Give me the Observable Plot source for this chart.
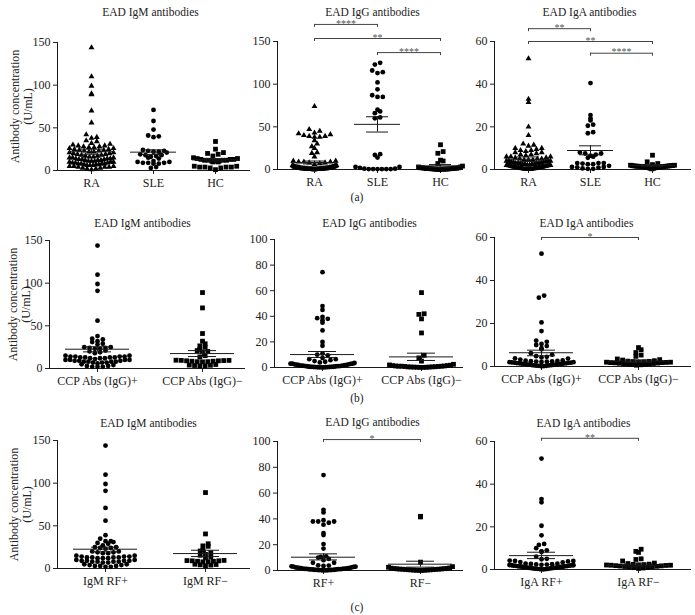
<!DOCTYPE html>
<html>
<head>
<meta charset="utf-8">
<script src="https://cdn.jsdelivr.net/npm/d3@7"></script>
<script src="https://cdn.jsdelivr.net/npm/@observablehq/plot@0.6"></script>
<style>
  body { margin: 0; background: white; }
  #chart { position: relative; width: 695px; height: 615px; background: white; overflow: hidden; }
  .pl { position: absolute; }
  .lab { position: absolute; font-family: 'Liberation Serif', serif; font-size: 11.5px; color: #222; transform: translate(-50%, -50%); }
</style>
</head>
<body>
<div id="chart"></div>
<script>
// ---------- Category / tick labels ----------
const titles = ["EAD IgM antibodies", "EAD IgG antibodies", "EAD IgA antibodies"];
const catsA = ["RA", "SLE", "HC"];
const catsB = ["CCP Abs (IgG)+", "CCP Abs (IgG)\u2212"];
const catsC_IgM = ["IgM RF+", "IgM RF\u2212"];
const catsC_IgG = ["RF+", "RF\u2212"];
const catsC_IgA = ["IgA RF+", "IgA RF\u2212"];
const yTicksM = [0, 50, 100, 150];
const yTicksG = [0, 20, 40, 60, 80, 100];
const yTicksA = [0, 20, 40, 60];
const panelLetters = ["(a)", "(b)", "(c)"];

// ---------- (a) RA / SLE / HC ----------
const a_IgM_RA = [144,110,99,90,89,70,56,42,39,38,35,34,32,31,30,29,29,28,28,27,27,26,26,25,25,24,24,23,23,22,22,21,21,20,20,19,19,18,18,17,17,16,16,15,15,15,14,14,14,13,13,13,12,12,12,11,11,11,10,10,10,9,9,9,8,8,8,8,7,7,7,6,6,6,5,5,5,4,4,4,3,3,2,2,1];
const a_IgM_SLE = [71,58,48,41,40,39,24,23,23,22,22,21,19,18,18,17,16,15,14,11,10,10,9,9,9,8,8,4,3];
const a_IgM_HC = [34,25,21,20,19,17,15,14,14,13,13,13,12,12,12,12,11,11,11,10,10,5,5,4,4,4,4,3,3,1];
const a_IgG_RA = [74,47,45,43,42,41,40,39,39,38,38,34,30,27,25,20,19,15,10,10,9,9,9,8,8,7,6,5,5,4,4,4,3.5,3.5,3,3,3,3,2.5,2.5,2.5,2,2,2,2,2,2,1.5,1.5,1.5,1.5,1.5,1.2,1.2,1.2,1.2,1,1,1,1,1,1,0.8,0.8,0.8,0.8,0.6,0.6,0.6,0.6,0.5,0.5,0.5,0.4,0.4,0.4,0.3,0.3,0.3,0.2,0.2,0.2,0.1,0.1,0.1];
const a_IgG_SLE = [125,123,116,114,113,102,94,87,85,85,70,68,66,61,60,18,17,14,3,2,1,0.5,0.5,0.5,0.5,0.5,0.5,1,3];
const a_IgG_HC = [29,21,19,11,10,7,4,3,3,2,2,2,1.5,1.5,1.5,1,1,1,1,1,0.8,0.8,0.5,0.5,0.5,0.3,0.3,0.2,0.2,0.1];
const a_IgA_RA = [52,33,31.5,20,16,12,11.5,11,10,10,9.5,9,9,8.5,8,8,7.5,7,7,6.5,6,6,6,5.5,5.5,5,5,5,4.5,4.5,4.5,4,4,4,4,3.8,3.5,3.5,3.5,3.2,3,3,3,3,2.8,2.5,2.5,2.5,2.5,2.2,2.2,2,2,2,2,1.8,1.8,1.6,1.6,1.5,1.5,1.4,1.3,1.2,1.2,1.1,1,1,1,0.9,0.8,0.8,0.7,0.6,0.6,0.5,0.5,0.4,0.3,0.2,0.2,0.1,0.1,0.1,0.1];
const a_IgA_SLE = [40.5,25.5,24,23,21,20.5,17.5,17,8,7.5,7.5,7,6.5,6,5.5,3,3,3,2.8,2.5,2.5,1.7,1.2,1.2,1,0.9,0.5,0.3,0.3];
const a_IgA_HC = [6.7,3.6,2.8,2.3,2,2,1.9,1.8,1.8,1.7,1.7,1.6,1.6,1.5,1.5,1.5,1.4,1.4,1.3,1.3,1.2,1.2,1.1,1,1,0.9,0.8,0.6,0.5,0.3];

// ---------- (b) CCP Abs (IgG)+ / − ----------
const b_IgM_pos = [144,110,99,91,56,38,35,34,32,31,29,28,25,25,24,24,23,23,21,20,19,18,15,15,14,14,14,14,13,13,13,13,12,12,12,11,10,10,10,10,9,9,9,8,8,8,8,7,7,7,6,5,4,3,3,2,2,2];
const b_IgM_neg = [89,71,41,32,29,26.5,25,22.5,21,20,19.5,15,13.5,9.7,9.5,9.3,9,8.5,8,7.8,8,8.5,9,9.5,4.7,4,3.5,3,3.2,3.8];
const b_IgG_pos = [74.5,48,45,39.5,38.5,38,37,35,29,20,17,11,10,9.5,7.5,6.5,6.5,5.7,5,4.5,4,3.5,3,3,3,2.8,2.5,2.5,2.2,2,2,1.8,1.5,1.5,1.5,1.2,1.2,1,1,1,0.8,0.8,0.6,0.6,0.5,0.5,0.4,0.4,0.3,0.3,0.2,0.2,0.1,0.1,0.1];
const b_IgG_neg = [58.5,42,41.5,38,27,9.5,7.5,5,2.5,2,1.8,1.5,1.5,1.2,1.2,1,1,1,0.8,0.8,0.6,0.5,0.5,0.4,0.3,0.3,0.2,0.2,0.1,0.1];
const b_IgA_pos = [52.5,33,32,20.5,16.5,12,11.5,10.5,10,9.5,8.5,8,6.2,5.5,4.8,4.5,4.2,3.8,3.7,3.2,2.8,2.7,2.6,2.5,2.4,2.3,2.2,2.1,2,2,1.9,1.8,1.8,1.7,1.6,1.5,1.5,1.4,1.3,1.2,1.2,1.1,1,1,0.9,0.8,0.7,0.6,0.5,0.5,0.4,0.3,0.3,0.2,0.1];
const b_IgA_neg = [8.8,7.8,6.5,5.3,4.7,3.5,3.2,3,2.7,2.5,2.4,2.3,2.2,2.1,2,2,1.9,1.8,1.8,1.7,1.6,1.5,1.4,1.3,1.2,1.1,1,0.9,0.8,0.6];

// ---------- (c) RF+ / RF− ----------
const c_IgM_pos = [144,110,99,91,71,56,39,35,32,32,31,30,29,27,25,25,24,24,23,20,20,19,19,18,18,15,15,14,14,14,13,13,13,13,12,12,12,10,10,9,9,9,9,8,8,8,8,7,7,5,5,4,4,3,3,3,2,2];
const c_IgM_neg = [89,40.5,29,26.5,26,21.5,20.5,18.5,16.5,15.5,13.5,12.5,9.5,9,8.5,8.5,8,7.8,9,9.3,4.7,4.3,3.1,4,5];
const c_IgG_pos = [74,47,45,39,38,38,38,37,35.5,29,27.5,20.5,17,11,10.5,10,9,8,6,6,4,3.8,3.5,3.2,3,3,2.8,2.5,2.5,2.2,2,2,1.8,1.8,1.5,1.5,1.5,1.2,1.2,1.2,1,1,1,0.8,0.8,0.8,0.6,0.6,0.5,0.5,0.4,0.4,0.3,0.3,0.2,0.2,0.1,0.1];
const c_IgG_neg = [42,41.5,6.5,3,2.5,2,1.8,1.6,1.5,1.4,1.3,1.2,1.1,1,1,0.9,0.8,0.7,0.6,0.5,0.5,0.4,0.3,0.2,0.2,0.1,0.1];
const c_IgA_pos = [52,33,31.5,20.5,16,12,11.5,10,9,8.5,8.2,6,5,4.8,4.2,4,4,3.8,3.5,3.3,2.8,2.7,2.6,2.5,2.4,2.3,2.2,2.1,2,2,1.9,1.8,1.8,1.7,1.6,1.5,1.5,1.4,1.3,1.3,1.2,1.1,1,1,0.9,0.8,0.8,0.7,0.6,0.5,0.5,0.4,0.3,0.3,0.2,0.2,0.1,0.1];
const c_IgA_neg = [9.5,8.5,8,5,4.7,4,3,2.8,2.5,2.4,2.3,2.2,2.1,2,2,1.9,1.8,1.7,1.6,1.5,1.4,1.3,1.2,1,0.9,0.7,0.5];

// ---------- Mean and SEM ----------
const a_IgM_mean = [22, 21.5, 12.5], a_IgM_lo = [19, 18.8, 11], a_IgM_hi = [25, 24.2, 14];
const a_IgG_mean = [8.2, 52.9, 4.3], a_IgG_lo = [6.5, 43.9, 2.8], a_IgG_hi = [9.9, 61.8, 5.8];
const a_IgA_mean = [4.8, 8.9, 1.9], a_IgA_lo = [3.8, 6.9, 1.5], a_IgA_hi = [5.9, 11.1, 2.3];
const b_IgM_mean = [22.6, 17.5], b_IgM_lo = [19.5, 14], b_IgM_hi = [25.5, 21];
const b_IgG_mean = [10.1, 8.3], b_IgG_lo = [7.8, 5.5], b_IgG_hi = [12.5, 11.2];
const b_IgA_mean = [6.4, 2.5], b_IgA_lo = [5.0, 2.0], b_IgA_hi = [7.6, 3.0];
const c_IgM_mean = [22.6, 17.5], c_IgM_lo = [19.5, 14], c_IgM_hi = [25, 21.4];
const c_IgG_mean = [10.3, 4.9], c_IgG_lo = [8.2, 2.6], c_IgG_hi = [12.9, 7.2];
const c_IgA_mean = [6.5, 2.0], c_IgA_lo = [5.1, 1.2], c_IgA_hi = [8.1, 2.6];

// ---------- Significance brackets (group index from, to, level, label) ----------
const a_IgG_sig = [{from: 0, to: 1, level: 170, label: "****"}, {from: 0, to: 2, level: 153.5, label: "**"}, {from: 1, to: 2, level: 137, label: "****"}];
const a_IgA_sig = [{from: 0, to: 1, level: 66, label: "**"}, {from: 0, to: 2, level: 60, label: "**"}, {from: 1, to: 2, level: 54.5, label: "****"}];
const b_IgA_sig = [{from: 0, to: 1, level: 60, label: "*"}];
const c_IgG_sig = [{from: 0, to: 1, level: 101.5, label: "*"}];
const c_IgA_sig = [{from: 0, to: 1, level: 61.5, label: "**"}];

// ---------- Panel geometry (layout only) ----------
const geom = {
  a1: {svgLeft: 0,   svgTop: 0,   svgW: 255, svgH: 195, L: 57,  axisLen: 193, firstOff: 34, spacing: 62,  yTop: 42,  y0: 170, titleX: 150, titleY: 12,  maxHalf: 22, meanHalf: 23, semHalf: 11},
  a2: {svgLeft: 240, svgTop: 0,   svgW: 225, svgH: 195, L: 277, axisLen: 186, firstOff: 37, spacing: 63,  yTop: 41,  y0: 169, titleX: 372, titleY: 12,  maxHalf: 22, meanHalf: 23, semHalf: 11},
  a3: {svgLeft: 460, svgTop: 0,   svgW: 235, svgH: 195, L: 494, axisLen: 197, firstOff: 34, spacing: 62,  yTop: 41,  y0: 169, titleX: 589, titleY: 12,  maxHalf: 22, meanHalf: 23, semHalf: 11},
  b1: {svgLeft: 0,   svgTop: 205, svgW: 255, svgH: 200, L: 49,  axisLen: 196, firstOff: 48, spacing: 105, yTop: 240, y0: 368, titleX: 142, titleY: 223, maxHalf: 32, meanHalf: 32, semHalf: 14},
  b2: {svgLeft: 240, svgTop: 205, svgW: 225, svgH: 200, L: 274, axisLen: 189, firstOff: 48, spacing: 99,  yTop: 239, y0: 367, titleX: 369, titleY: 223, maxHalf: 32, meanHalf: 32, semHalf: 14},
  b3: {svgLeft: 460, svgTop: 205, svgW: 235, svgH: 200, L: 494, axisLen: 197, firstOff: 47, spacing: 97,  yTop: 237, y0: 366, titleX: 586, titleY: 223, maxHalf: 32, meanHalf: 32, semHalf: 14},
  c1: {svgLeft: 0,   svgTop: 415, svgW: 255, svgH: 200, L: 57,  axisLen: 193, firstOff: 48, spacing: 100, yTop: 440, y0: 568, titleX: 148, titleY: 423, maxHalf: 32, meanHalf: 32, semHalf: 14},
  c2: {svgLeft: 240, svgTop: 415, svgW: 225, svgH: 200, L: 277, axisLen: 186, firstOff: 46, spacing: 97,  yTop: 441, y0: 570, titleX: 372, titleY: 422, maxHalf: 32, meanHalf: 32, semHalf: 14},
  c3: {svgLeft: 460, svgTop: 415, svgW: 235, svgH: 200, L: 494, axisLen: 197, firstOff: 47, spacing: 97,  yTop: 441, y0: 569, titleX: 583, titleY: 423, maxHalf: 32, meanHalf: 32, semHalf: 14}
};

const panels = [
  {g: geom.a1, title: titles[0], cats: catsA, groups: [a_IgM_RA, a_IgM_SLE, a_IgM_HC], sym: ["triangle", "circle", "square"], ymax: 150, ticks: yTicksM, mean: a_IgM_mean, lo: a_IgM_lo, hi: a_IgM_hi, sig: [], ylab: {x: 21}},
  {g: geom.a2, title: titles[1], cats: catsA, groups: [a_IgG_RA, a_IgG_SLE, a_IgG_HC], sym: ["triangle", "circle", "square"], ymax: 150, ticks: yTicksM, mean: a_IgG_mean, lo: a_IgG_lo, hi: a_IgG_hi, sig: a_IgG_sig},
  {g: geom.a3, title: titles[2], cats: catsA, groups: [a_IgA_RA, a_IgA_SLE, a_IgA_HC], sym: ["triangle", "circle", "square"], ymax: 60, ticks: yTicksA, mean: a_IgA_mean, lo: a_IgA_lo, hi: a_IgA_hi, sig: a_IgA_sig},
  {g: geom.b1, title: titles[0], cats: catsB, groups: [b_IgM_pos, b_IgM_neg], sym: ["circle", "square"], ymax: 150, ticks: yTicksM, mean: b_IgM_mean, lo: b_IgM_lo, hi: b_IgM_hi, sig: [], ylab: {x: 19}},
  {g: geom.b2, title: titles[1], cats: catsB, groups: [b_IgG_pos, b_IgG_neg], sym: ["circle", "square"], ymax: 100, ticks: yTicksG, mean: b_IgG_mean, lo: b_IgG_lo, hi: b_IgG_hi, sig: []},
  {g: geom.b3, title: titles[2], cats: catsB, groups: [b_IgA_pos, b_IgA_neg], sym: ["circle", "square"], ymax: 60, ticks: yTicksA, mean: b_IgA_mean, lo: b_IgA_lo, hi: b_IgA_hi, sig: b_IgA_sig},
  {g: geom.c1, title: titles[0], cats: catsC_IgM, groups: [c_IgM_pos, c_IgM_neg], sym: ["circle", "square"], ymax: 150, ticks: yTicksM, mean: c_IgM_mean, lo: c_IgM_lo, hi: c_IgM_hi, sig: [], ylab: {x: 20}},
  {g: geom.c2, title: titles[1], cats: catsC_IgG, groups: [c_IgG_pos, c_IgG_neg], sym: ["circle", "square"], ymax: 100, ticks: yTicksG, mean: c_IgG_mean, lo: c_IgG_lo, hi: c_IgG_hi, sig: c_IgG_sig},
  {g: geom.c3, title: titles[2], cats: catsC_IgA, groups: [c_IgA_pos, c_IgA_neg], sym: ["circle", "square"], ymax: 60, ticks: yTicksA, mean: c_IgA_mean, lo: c_IgA_lo, hi: c_IgA_hi, sig: c_IgA_sig}
];

// Scatter-dot layout (GraphPad-like): points in the same vertical band are spread
// horizontally, lowest value in the middle, overlapping when the band is crowded.
function swarm(values, pxPerUnit, maxHalf) {
  const binH = 4.5, gap = 5.3;
  const sorted = [...values].sort((a, b) => a - b);
  const bins = new Map();
  for (const v of sorted) {
    const b = Math.floor(v * pxPerUnit / binH);
    if (!bins.has(b)) bins.set(b, []);
    bins.get(b).push(v);
  }
  const out = [];
  for (const vs of bins.values()) {
    const n = vs.length;
    let step = gap;
    if (n > 1 && (n - 1) / 2 * step > maxHalf) step = 2 * maxHalf / (n - 1);
    vs.forEach((v, k) => {
      let pos;
      if (n % 2) pos = k === 0 ? 0 : (k % 2 ? (k + 1) / 2 : -k / 2);
      else pos = (Math.floor(k / 2) + 0.5) * (k % 2 ? 1 : -1);
      out.push({v, off: pos * step});
    });
  }
  return out;
}

const chart = document.getElementById("chart");
const ink = "#1a1a1a";

for (const p of panels) {
  const g = p.g;
  const pxY = (g.y0 - g.yTop) / p.ymax;
  const lo = -g.firstOff / g.spacing;
  const hi = (g.axisLen - g.firstOff) / g.spacing;
  const marks = [];

  // axis lines
  marks.push(Plot.ruleY([0], {stroke: ink, strokeWidth: 1}));
  marks.push(Plot.ruleX([lo], {stroke: ink, strokeWidth: 1}));

  // points
  p.groups.forEach((arr, i) => {
    const pts = swarm(arr, pxY, g.maxHalf).map(d => ({x: i + d.off / g.spacing, y: d.v}));
    const s = p.sym[i];
    marks.push(Plot.dot(pts, {x: "x", y: "y", symbol: s, r: s === "circle" ? 2.4 : s === "square" ? 2.7 : 2.2, fill: "black", stroke: "none"}));
  });

  // mean and SEM
  const ms = p.mean.map((m, i) => ({i, m, lo: p.lo[i], hi: p.hi[i]}));
  const mh = g.meanHalf / g.spacing, sh = g.semHalf / g.spacing;
  marks.push(Plot.ruleY(ms, {y: "m", x1: d => d.i - mh, x2: d => d.i + mh, stroke: ink, strokeWidth: 1}));
  marks.push(Plot.ruleY(ms, {y: "lo", x1: d => d.i - sh, x2: d => d.i + sh, stroke: ink, strokeWidth: 1}));
  marks.push(Plot.ruleY(ms, {y: "hi", x1: d => d.i - sh, x2: d => d.i + sh, stroke: ink, strokeWidth: 1}));
  marks.push(Plot.ruleX(ms, {x: "i", y1: "lo", y2: "hi", stroke: ink, strokeWidth: 1}));

  // significance brackets
  if (p.sig.length) {
    const tick = 3 / pxY;
    marks.push(Plot.ruleY(p.sig, {y: "level", x1: "from", x2: "to", stroke: "#444", strokeWidth: 1}));
    const ends = p.sig.flatMap(s => [{x: s.from, y: s.level}, {x: s.to, y: s.level}]);
    marks.push(Plot.ruleX(ends, {x: "x", y1: "y", y2: d => d.y - tick, stroke: "#444", strokeWidth: 1}));
    marks.push(Plot.text(p.sig, {x: d => (d.from + d.to) / 2, y: "level", text: "label", dy: -1, fontSize: 10, fill: "#555", lineAnchor: "middle"}));
  }

  // title
  marks.push(Plot.text([p.title], {text: d => d, frameAnchor: "top-left", dx: g.titleX - g.L, dy: g.titleY - g.yTop, fontSize: 11.5, fill: "#222", textAnchor: "middle", lineAnchor: "middle"}));

  // y label (first column)
  if (p.ylab) {
    marks.push(Plot.text(["Antibody concentration\n(U/mL)"], {text: d => d, frameAnchor: "left", dx: p.ylab.x - g.L, rotate: -90, fontSize: 12, lineHeight: 1.05, fill: "#222", textAnchor: "middle", lineAnchor: "middle"}));
  }

  const svg = Plot.plot({
    width: g.svgW,
    height: g.svgH,
    marginLeft: g.L - g.svgLeft,
    marginRight: g.svgLeft + g.svgW - (g.L + g.axisLen),
    marginTop: g.yTop - g.svgTop,
    marginBottom: g.svgTop + g.svgH - g.y0,
    style: {fontFamily: "'Liberation Serif', serif", fontSize: "12px", color: "#222", background: "transparent", overflow: "visible"},
    x: {domain: [lo, hi], ticks: p.cats.map((_, i) => i), tickFormat: i => p.cats[i], tickSize: 4, tickPadding: 4, label: null},
    y: {domain: [0, p.ymax], ticks: p.ticks, tickSize: 4, tickPadding: 3, label: null},
    marks
  });
  const wrap = document.createElement("div");
  wrap.className = "pl";
  wrap.style.left = g.svgLeft + "px";
  wrap.style.top = g.svgTop + "px";
  wrap.style.width = g.svgW + "px";
  wrap.style.height = g.svgH + "px";
  wrap.appendChild(svg);
  chart.appendChild(wrap);
}

// panel letters
[[357, 197], [357, 398], [357, 607]].forEach(([x, y], i) => {
  const d = document.createElement("div");
  d.className = "lab";
  d.style.left = x + "px";
  d.style.top = y + "px";
  d.textContent = panelLetters[i];
  chart.appendChild(d);
});
</script>
</body>
</html>
